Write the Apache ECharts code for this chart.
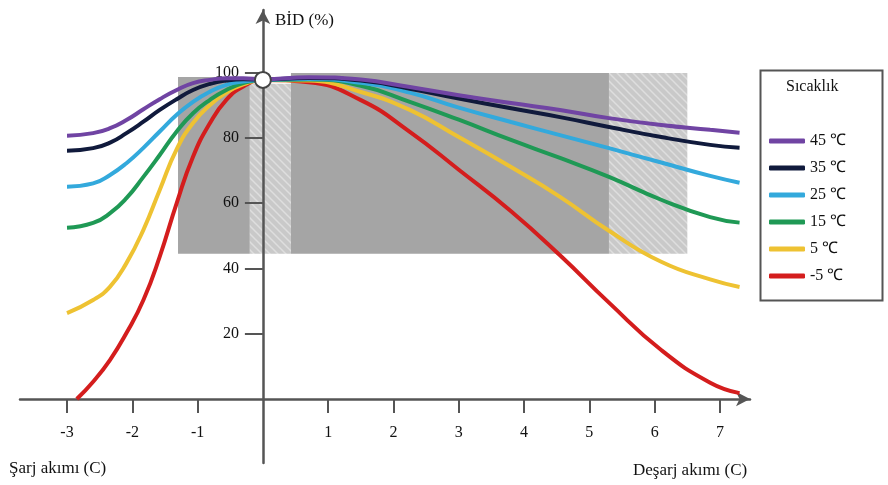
<!DOCTYPE html>
<html>
<head>
<meta charset="utf-8">
<script src="https://cdn.jsdelivr.net/npm/echarts@6/dist/echarts.min.js"></script>
<style>
  html, body { margin: 0; padding: 0; background: #fff; }
  #chart { width: 888px; height: 485px; }
</style>
</head>
<body>
<div id="chart"></div>
<script>
// ortak akım değerleri (C)
var xCommon = [-3, -2.6, -2.34, -2.09, -1.83, -1.58, -1.32, -1.07, -0.81, -0.56, -0.3, 0, 0.7, 1.5, 2.25, 3, 3.8, 4.55, 5.3, 6.1, 6.85, 7.3];
var bid45 = [80.6, 81.4, 82.9, 85.4, 88.7, 91.8, 94.6, 96.7, 97.7, 98.2, 98.2, 97.9, 98.5, 97.8, 95.5, 93, 90.6, 88.5, 86, 83.9, 82.4, 81.5];
var bid35 = [76, 76.8, 78.5, 81.4, 84.9, 88.5, 91.8, 94.6, 96.5, 97.5, 97.9, 97.8, 98.3, 97.5, 95, 92, 89, 86.3, 83.3, 80.2, 77.8, 76.9];
var bid25 = [65, 66, 68.6, 72.2, 76.9, 81.9, 87, 91, 94.1, 96.2, 97.2, 97.7, 98, 96.8, 93.8, 89.2, 84.8, 80.8, 76.8, 72.4, 68.3, 66.2];
var bid15 = [52.4, 53.9, 56.9, 61.5, 68, 74.7, 81.9, 87.5, 91.6, 94.6, 96.7, 97.7, 97.8, 95.9, 91, 85.5, 79.3, 73.8, 68, 61, 55.7, 54];
var bid5 = [26.3, 30.3, 34.4, 41.6, 51.8, 64, 76.5, 84.5, 90, 93.8, 96.3, 97.7, 97.5, 94, 88.5, 80.2, 71, 61.9, 51.5, 42, 36.6, 34.3];
// -5 °C eğrisi kendi akım değerleriyle
var xRed = [-2.85, -2.6, -2.34, -2.09, -1.83, -1.58, -1.32, -1.07, -0.81, -0.56, -0.3, 0, 0.7, 1.5, 2.25, 3, 3.8, 4.55, 5.3, 6.1, 6.85, 7.3];
var bidM5 = [0, 5.3, 12, 20.2, 30.3, 43.6, 60, 74.2, 84.5, 91.6, 95.7, 97.7, 97, 91.5, 81.8, 70.2, 57.5, 44, 29.5, 15, 5, 1.8];

var seriesNames = ['45 ℃', '35 ℃', '25 ℃', '15 ℃', '5 ℃', '-5 ℃'];
var seriesColors = ['#7044a3', '#101a3c', '#33a9dc', '#1f9955', '#eec232', '#d41d1d'];

var xTicks = [-3, -2, -1, 1, 2, 3, 4, 5, 6, 7];
var yTicks = [20, 40, 60, 80, 100];

// gri bölgeler: [x1, y1, x2, y2]
var zoneDark = [[-1.3, 98.6, -0.2, 44.5], [0.43, 99.8, 5.3, 44.5]];
var zoneHatch = [[-0.2, 96.5, 0.43, 44.5], [5.3, 99.8, 6.5, 44.5]];
var originPoint = [[0, 97.7]];

function zip(xs, ys) {
    return xs.map(function (x, i) { return [x, ys[i]]; });
}

// taralı desen
var pat = document.createElement('canvas');
pat.width = 8; pat.height = 8;
var pc = pat.getContext('2d');
pc.fillStyle = '#c9c9c9';
pc.fillRect(0, 0, 8, 8);
pc.strokeStyle = '#dedede';
pc.lineWidth = 1.5;
pc.beginPath();
pc.moveTo(0, 0); pc.lineTo(8, 8);
pc.moveTo(-4, 4); pc.lineTo(4, 12);
pc.moveTo(4, -4); pc.lineTo(12, 4);
pc.stroke();

var areaData = [];
zoneDark.forEach(function (z) {
    areaData.push([{ xAxis: z[0], yAxis: z[1], itemStyle: { color: '#a5a5a5' } }, { xAxis: z[2], yAxis: z[3] }]);
});
zoneHatch.forEach(function (z) {
    areaData.push([{ xAxis: z[0], yAxis: z[1], itemStyle: { color: { image: pat, repeat: 'repeat' } } }, { xAxis: z[2], yAxis: z[3] }]);
});

var curves = [
    zip(xCommon, bid45), zip(xCommon, bid35), zip(xCommon, bid25),
    zip(xCommon, bid15), zip(xCommon, bid5), zip(xRed, bidM5)
];

var series = [{
    type: 'line',
    data: [],
    z: 1,
    silent: true,
    markArea: { silent: true, data: areaData }
}];
// kırmızı en alta, mor en üste
for (var i = curves.length - 1; i >= 0; i--) {
    series.push({
        name: seriesNames[i],
        type: 'line',
        data: curves[i],
        smooth: 0.5,
        symbol: 'none',
        z: 3,
        lineStyle: { width: 4, color: seriesColors[i] },
        itemStyle: { color: seriesColors[i] }
    });
}
series.push({
    type: 'scatter',
    data: originPoint,
    z: 6,
    symbolSize: 16,
    itemStyle: { color: '#ffffff', borderColor: '#444', borderWidth: 2, opacity: 1 }
});

// eksenler grid kenarından ofsetle sıfıra taşınır
var gridLeft = 20, gridTop = 10, gridBottom = 22, gridRight = 138;
var xMin = -3.72, xMax = 7.46, yMin = -19.6, yMax = 119.1;
var xZeroOffset = (485 - gridTop - gridBottom) * (0 - yMin) / (yMax - yMin);
var yZeroOffset = (888 - gridLeft - gridRight) * (0 - xMin) / (xMax - xMin);

var font = 'Liberation Serif';
var chart = echarts.init(document.getElementById('chart'));
chart.setOption({
    animation: false,
    backgroundColor: '#ffffff',
    grid: { left: gridLeft, right: gridRight, top: gridTop, bottom: gridBottom, containLabel: false, outerBoundsMode: 'none' },
    xAxis: {
        type: 'value',
        min: xMin,
        max: xMax,
        position: 'bottom',
        offset: -xZeroOffset,
        z: 2,
        splitLine: { show: false },
        axisLine: { onZero: false, symbol: ['none', 'arrow'], symbolSize: [11, 14], lineStyle: { color: '#555', width: 2.5 } },
        axisTick: { customValues: xTicks, length: 14, lineStyle: { color: '#555', width: 2 } },
        axisLabel: { customValues: xTicks, margin: 26, color: '#111', fontFamily: font, fontSize: 16 }
    },
    yAxis: {
        type: 'value',
        min: yMin,
        max: yMax,
        position: 'left',
        offset: -yZeroOffset,
        z: 2,
        splitLine: { show: false },
        axisLine: { onZero: false, symbol: ['none', 'arrow'], symbolSize: [11, 14], lineStyle: { color: '#555', width: 2.5 } },
        axisTick: { customValues: yTicks, length: 18, lineStyle: { color: '#555', width: 2 } },
        axisLabel: { customValues: yTicks, margin: 24, color: '#111', fontFamily: font, fontSize: 16 }
    },
    legend: {
        data: seriesNames,
        orient: 'vertical',
        left: 764,
        top: 128,
        itemWidth: 36,
        itemHeight: 5,
        itemGap: 11,
        icon: 'roundRect',
        textStyle: { color: '#111', fontFamily: font, fontSize: 16, lineHeight: 16 }
    },
    graphic: [
        { type: 'rect', left: 758, top: 68, shape: { width: 122, height: 230 }, style: { fill: 'none', stroke: '#555', lineWidth: 2 } },
        { type: 'text', left: 786, top: 79, style: { text: 'Sıcaklık', fill: '#111', font: '16px "Liberation Serif"' } },
        { type: 'text', left: 275, top: 12, style: { text: 'BİD (%)', fill: '#111', font: '17px "Liberation Serif"' } },
        { type: 'text', left: 9, top: 460, style: { text: 'Şarj akımı (C)', fill: '#111', font: '17px "Liberation Serif"' } },
        { type: 'text', left: 633, top: 462, style: { text: 'Deşarj akımı (C)', fill: '#111', font: '17px "Liberation Serif"' } }
    ],
    series: series
});
</script>
</body>
</html>
